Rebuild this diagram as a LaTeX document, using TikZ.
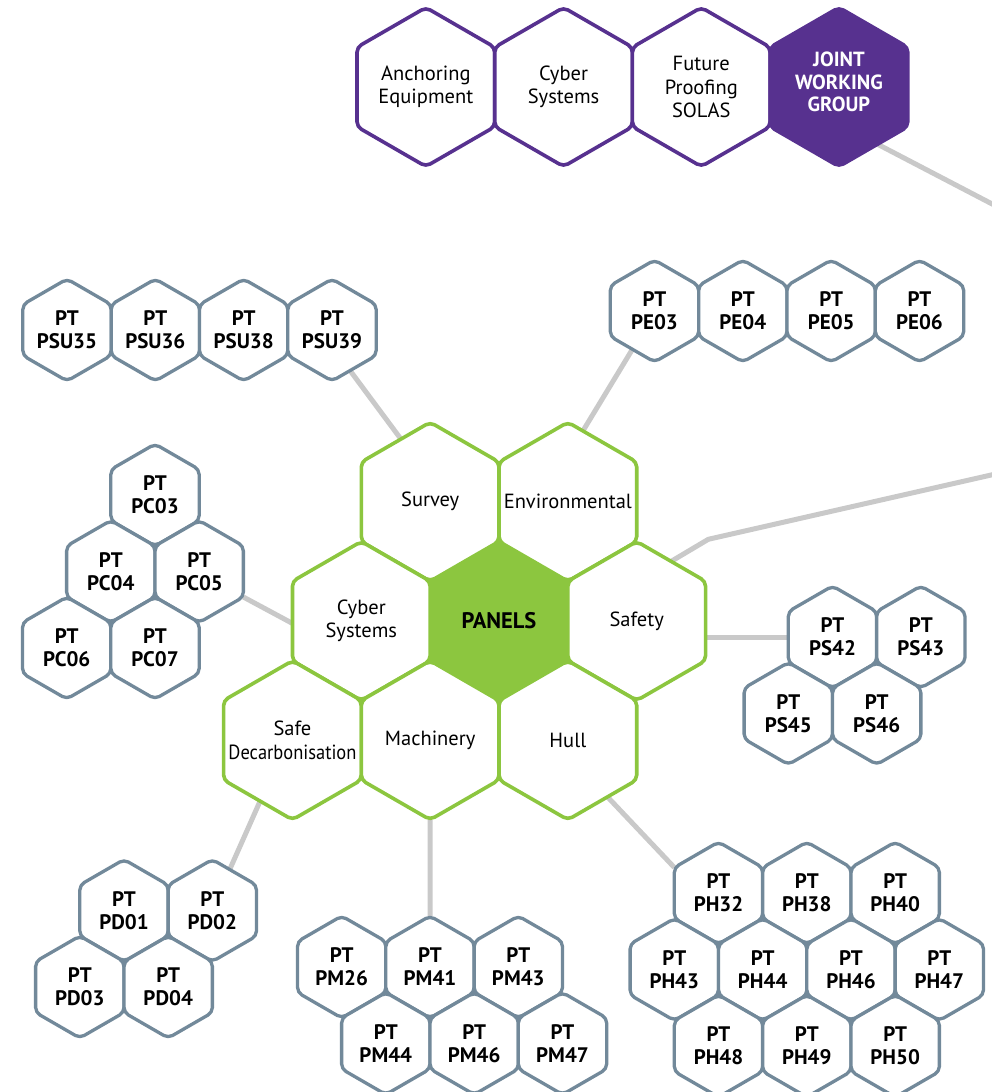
\documentclass[tikz,border=0pt]{standalone}
\usepackage{fontspec}
\setmainfont{PT Sans}
\newfontfamily\condfont{PT Sans}[FakeStretch=0.9]
\usetikzlibrary{shapes.geometric}
\definecolor{jwgpurple}{HTML}{57318F}
\definecolor{panelgreen}{HTML}{8CC63F}
\definecolor{ptslate}{HTML}{72899A}
\definecolor{linkgrey}{HTML}{C9C9C9}
\pgfdeclarelayer{bg}
\pgfsetlayers{bg,main}
\newcommand{\zw}[1]{\makebox[0pt]{#1}}
\begin{document}
\begin{tikzpicture}[x=1pt,y=-1pt,
  hexbase/.style={regular polygon, regular polygon sides=6, regular polygon rotate=30,
    inner sep=0pt, outer sep=0pt, align=center, rounded corners=5pt, fill=white, text=black},
  bighex/.style={hexbase, minimum size=159pt, line width=3.6pt, font=\fontsize{20.5}{23.5}\selectfont},
  wg/.style={bighex, draw=jwgpurple},
  wgfill/.style={wg, fill=jwgpurple, text=white, font=\fontsize{20.5}{22.5}\selectfont\bfseries},
  panel/.style={bighex, draw=panelgreen},
  panelcore/.style={panel, fill=panelgreen, font=\fontsize{22.5}{23.5}\selectfont\bfseries},
  pt/.style={hexbase, minimum size=102pt, line width=3.3pt, draw=ptslate,
    font=\fontsize{21}{23}\selectfont\bfseries},
  link/.style={draw=linkgrey, line width=5pt}
]
\useasboundingbox (0,0) rectangle (991,1092);

% working groups
\node[wg] (anchor) at (425.85,87) {Anchoring\\Equipment};
\node[wg] (wcyber) at (563.55,87) {Cyber\\Systems};
\node[wg] (future) at (701.25,87) {Future\\Proofing\\SOLAS};
\node[wgfill] (jwg) at (838.95,87) {\raisebox{-3pt}[0pt][0pt]{\begin{tabular}{@{}c@{}}JOINT\\WORKING\\GROUP\end{tabular}}};

% panels
\node[panelcore] (panels) at (499,621) {PANELS};
\node[panel] (survey) at (430.15,501.75) {Survey};
\node[panel] (env) at (567.85,501.75) {\zw{Environmental}};
\node[panel] (gcyber) at (361.3,621) {Cyber\\Systems};
\node[panel] (safety) at (636.7,621) {Safety};
\node[panel] (sdecarb) at (292.45,740.25) {\zw{Safe}\\\zw{\condfont Decarbonisation}};
\node[panel] (mach) at (430.15,740.25) {Machinery};
\node[panel] (hull) at (567.85,740.25) {Hull};

% survey
\node[pt] (psu35) at (67,330) {PT\\PSU35};
\node[pt] (psu36) at (155.33,330) {PT\\PSU36};
\node[pt] (psu38) at (243.67,330) {PT\\PSU38};
\node[pt] (psu39) at (332,330) {PT\\PSU39};
% environmental
\node[pt] (pe03) at (654.5,311) {PT\\PE03};
\node[pt] (pe04) at (742.83,311) {PT\\PE04};
\node[pt] (pe05) at (831.17,311) {PT\\PE05};
\node[pt] (pe06) at (919.5,311) {PT\\PE06};
% cyber
\node[pt] (pc03) at (155,495) {PT\\PC03};
\node[pt] (pc04) at (110.8,571.5) {PT\\PC04};
\node[pt] (pc05) at (199.2,571.5) {PT\\PC05};
\node[pt] (pc06) at (66.7,648) {PT\\PC06};
\node[pt] (pc07) at (155,648) {PT\\PC07};
% safety
\node[pt] (ps42) at (832.5,637) {PT\\PS42};
\node[pt] (ps43) at (920.8,637) {PT\\PS43};
\node[pt] (ps45) at (788.3,713.5) {PT\\PS45};
\node[pt] (ps46) at (876.7,713.5) {PT\\PS46};
% decarbonisation
\node[pt] (pd01) at (124,910.5) {PT\\PD01};
\node[pt] (pd02) at (212.3,910.5) {PT\\PD02};
\node[pt] (pd03) at (79.8,987) {PT\\PD03};
\node[pt] (pd04) at (168.2,987) {PT\\PD04};
% machinery
\node[pt] (pm26) at (341.7,967) {PT\\PM26};
\node[pt] (pm41) at (430,967) {PT\\PM41};
\node[pt] (pm43) at (518.3,967) {PT\\PM43};
\node[pt] (pm44) at (385.8,1043.5) {PT\\PM44};
\node[pt] (pm46) at (474.2,1043.5) {PT\\PM46};
\node[pt] (pm47) at (562.5,1043.5) {PT\\PM47};
% hull
\node[pt] (ph32) at (718.5,893) {PT\\PH32};
\node[pt] (ph38) at (806.8,893) {PT\\PH38};
\node[pt] (ph40) at (895.2,893) {PT\\PH40};
\node[pt] (ph43) at (674.3,969.5) {PT\\PH43};
\node[pt] (ph44) at (762.7,969.5) {PT\\PH44};
\node[pt] (ph46) at (851,969.5) {PT\\PH46};
\node[pt] (ph47) at (939.3,969.5) {PT\\PH47};
\node[pt] (ph48) at (718.5,1046) {PT\\PH48};
\node[pt] (ph49) at (806.8,1046) {PT\\PH49};
\node[pt] (ph50) at (895.2,1046) {PT\\PH50};

\coordinate (jwgout) at (1010,213.3);
\coordinate (bend) at (708.3,539.3);
\coordinate (safeout) at (1010,470.7);

\begin{pgfonlayer}{bg}
\draw[link] (jwg.-56) -- (jwgout);
\draw[link, line join=round] (safety.60) -- (bend) -- (safeout);
\draw[link] (survey.115) -- (psu39.-66);
\draw[link] (env.78) -- (pe03.-120);
\draw[link] (gcyber.182) -- (pc05.-30);
\draw[link] (ps42.180 -| safety.0) -- (ps42.180);
\draw[link] (sdecarb.-118) -- (pd02.67);
\draw[link] (mach.-90) -- (pm41.90);
\draw[link] (hull.-55) -- (ph32.150);
\end{pgfonlayer}
\end{tikzpicture}
\end{document}
